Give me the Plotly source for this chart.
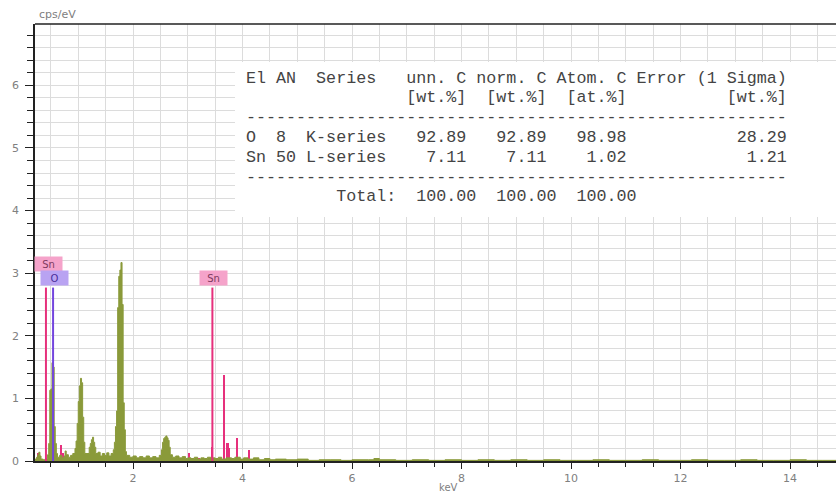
import plotly.graph_objects as go

# ---------------- data ----------------
green_keV = [0.20, 0.24, 0.26, 0.28, 0.30, 0.32, 0.36, 0.40, 0.44, 0.46, 0.48, 0.50, 0.52, 0.54, 0.56,
             0.58, 0.60, 0.62, 0.66, 0.70, 0.74, 0.76, 0.78, 0.82, 0.86, 0.90, 0.94, 0.96, 0.98, 1.00,
             1.02, 1.04, 1.06, 1.08, 1.10, 1.12, 1.16, 1.20, 1.22, 1.24, 1.26, 1.28, 1.30, 1.32, 1.36,
             1.40, 1.44, 1.48, 1.52, 1.56, 1.60, 1.64, 1.66, 1.68, 1.70, 1.72, 1.74, 1.76, 1.78, 1.80,
             1.82, 1.84, 1.86, 1.88, 1.94, 2.00, 2.06, 2.12, 2.18, 2.24, 2.30, 2.36, 2.42, 2.48, 2.52,
             2.54, 2.56, 2.58, 2.60, 2.62, 2.64, 2.66, 2.68, 2.72, 2.78, 2.84, 2.90, 2.96, 3.00, 3.06,
             3.12, 3.18, 3.24, 3.30, 3.36, 3.42, 3.50, 3.56, 3.62, 3.70, 3.80, 3.86, 3.96, 4.02, 4.10,
             4.20, 4.30, 4.40, 4.50, 4.60, 4.80, 5.00, 5.20, 5.40, 5.60, 5.80, 6.00, 6.30, 6.40, 6.50,
             6.80, 7.10, 7.40, 7.70, 8.00, 8.30, 8.60, 8.90, 9.20, 9.50, 9.80, 10.10, 10.40, 10.70,
             11.00, 11.30, 11.60, 11.90, 12.20, 12.50, 12.80, 13.10, 13.40, 13.70, 14.00, 14.30, 14.60, 14.84]
green_cps = [0.03, 0.06, 0.10, 0.14, 0.08, 0.03, 0.02, 0.04, 0.10, 0.28, 1.13, 1.15, 1.57, 1.50, 0.55,
             0.28, 0.12, 0.06, 0.09, 0.05, 0.08, 0.16, 0.10, 0.06, 0.09, 0.12, 0.20, 0.32, 0.60, 0.95,
             1.20, 1.32, 1.25, 0.70, 0.30, 0.12, 0.12, 0.22, 0.28, 0.34, 0.38, 0.30, 0.22, 0.12, 0.14,
             0.08, 0.12, 0.09, 0.13, 0.08, 0.12, 0.18, 0.30, 0.55, 0.80, 2.45, 2.95, 3.05, 3.17, 2.50,
             0.93, 0.50, 0.15, 0.09, 0.06, 0.08, 0.05, 0.07, 0.05, 0.08, 0.05, 0.07, 0.05, 0.09, 0.18,
             0.30, 0.36, 0.38, 0.40, 0.37, 0.33, 0.22, 0.10, 0.06, 0.08, 0.05, 0.07, 0.04, 0.05, 0.04,
             0.06, 0.03, 0.05, 0.04, 0.06, 0.05, 0.04, 0.06, 0.03, 0.05, 0.04, 0.06, 0.03, 0.05, 0.03,
             0.05, 0.02, 0.04, 0.02, 0.03, 0.02, 0.03, 0.01, 0.02, 0.02, 0.01, 0.02, 0.02, 0.04, 0.02,
             0.01, 0.02, 0.01, 0.02, 0.01, 0.02, 0.01, 0.02, 0.01, 0.02, 0.01, 0.01, 0.02, 0.01,
             0.01, 0.02, 0.01, 0.01, 0.02, 0.01, 0.01, 0.02, 0.01, 0.01, 0.02, 0.01, 0.01, 0.01]

pink_keV = [0.27, 0.69, 0.72, 3.03, 3.20, 3.45, 3.67, 3.73, 3.76, 3.91, 4.13]
pink_cps = [0.13, 0.25, 0.12, 0.12, 0.05, 0.22, 1.38, 0.28, 0.20, 0.37, 0.17]

line_elements = ["Sn", "O", "Sn"]
line_keV = [0.41, 0.54, 3.45]
line_height = 2.77

table_lines = [
    "El AN  Series   unn. C norm. C Atom. C Error (1 Sigma)",
    "                [wt.%]  [wt.%]  [at.%]          [wt.%]",
    "-" * 54,
    "O  8  K-series   92.89   92.89   98.98           28.29",
    "Sn 50 L-series    7.11    7.11    1.02            1.21",
    "-" * 54,
    "         Total:  100.00  100.00  100.00",
]

# ---------------- styles ----------------
GREEN = "#8a9a3a"
PINK = "#e6307c"
PURPLE = "#7446de"
GRID = "#dcdcdc"
AXIS = "#222222"
TICKFONT = dict(family="DejaVu Sans", size=11, color="#808080")
el_style = {
    "Sn": dict(line=PINK, bg="#f5a3ca", text="#7d3a5e"),
    "O": dict(line=PURPLE, bg="#b9a3f2", text="#4a2f9a"),
}

fig = go.Figure()

fig.add_trace(go.Scatter(
    x=green_keV, y=green_cps, mode="lines", line=dict(color=GREEN, width=1, shape="hv"),
    fill="tozeroy", fillcolor=GREEN, hoverinfo="skip"))

fig.add_trace(go.Bar(
    x=pink_keV, y=pink_cps, width=[0.03] * len(pink_keV), marker=dict(color=PINK, line=dict(width=0)),
    hoverinfo="skip"))

for el, e in zip(line_elements, line_keV):
    fig.add_trace(go.Scatter(x=[e, e], y=[0, line_height], mode="lines",
                             line=dict(color=el_style[el]["line"], width=2), hoverinfo="skip"))

# element labels (left Sn stacked above the O label)
label_shift = [(3, 24), (1, 10), (1, 10)]
for (el, e), (dx, dy) in zip(zip(line_elements, line_keV), label_shift):
    fig.add_annotation(x=e, y=line_height, xref="x", yref="y", text=el, showarrow=False,
                       xshift=dx, yshift=dy, yanchor="middle", width=25, height=12,
                       font=dict(family="DejaVu Sans", size=10, color=el_style[el]["text"]),
                       bgcolor=el_style[el]["bg"], borderpad=1)

# plot-area geometry (pixels) for paper-referenced items
L, R, T, B = 35, 0, 24, 34
W, H = 836, 495
pw, ph = W - L - R, H - T - B


def px_x(x):
    return (x - L) / pw


def px_y(y):
    return (H - B - y) / ph


# white table panel
fig.add_shape(type="rect", xref="paper", yref="paper", x0=px_x(235), x1=1.0, y0=px_y(217), y1=px_y(62),
              fillcolor="white", line=dict(width=0), layer="above")
# top frame line
fig.add_shape(type="line", xref="paper", yref="paper", x0=0, x1=1, y0=1, y1=1,
              line=dict(color=AXIS, width=1.5), layer="above")

for i, txt in enumerate(table_lines):
    fig.add_annotation(x=px_x(244), y=px_y(78 + i * 19.8), xref="paper", yref="paper",
                       text=txt.replace(" ", "\u00a0"), showarrow=False, xanchor="left", yanchor="middle",
                       font=dict(family="Liberation Mono", size=16.7, color="#444444"))

fig.add_annotation(x=px_x(37), y=1, xref="paper", yref="paper", text="cps/eV", showarrow=False,
                   xanchor="left", yanchor="bottom", yshift=1,
                   font=dict(family="DejaVu Sans", size=11, color="#808080"))
fig.add_annotation(x=px_x(448), y=px_y(487), xref="paper", yref="paper", text="keV", showarrow=False,
                   xanchor="center", yanchor="middle",
                   font=dict(family="DejaVu Sans", size=10, color="#808080"))

fig.update_layout(
    width=W, height=H, margin=dict(l=L, r=R, t=T, b=B, autoexpand=False),
    plot_bgcolor="white", paper_bgcolor="white", showlegend=False, bargap=0,
    xaxis=dict(range=[0.21, 14.84], tick0=0, dtick=2, ticks="outside", ticklen=6, tickcolor=AXIS,
               showline=True, linecolor=AXIS, linewidth=1.5, showgrid=True, gridcolor=GRID,
               zeroline=False, tickfont=TICKFONT, automargin=False,
               minor=dict(tick0=0, dtick=0.5, ticks="outside", ticklen=4, tickcolor=AXIS,
                          showgrid=True, gridcolor=GRID)),
    yaxis=dict(range=[0, 6.98], tick0=0, dtick=1, ticks="outside", ticklen=8, tickcolor=AXIS,
               showline=True, linecolor=AXIS, linewidth=1.5, showgrid=True, gridcolor=GRID,
               zeroline=False, tickfont=TICKFONT, automargin=False, ticklabelstandoff=4,
               minor=dict(tick0=0, dtick=0.2, ticks="outside", ticklen=6, tickcolor=AXIS,
                          showgrid=True, gridcolor=GRID)),
)

fig.write_html("out.html", config={"displayModeBar": False},
               post_script="document.body.style.margin='0';document.body.style.padding='0';")
